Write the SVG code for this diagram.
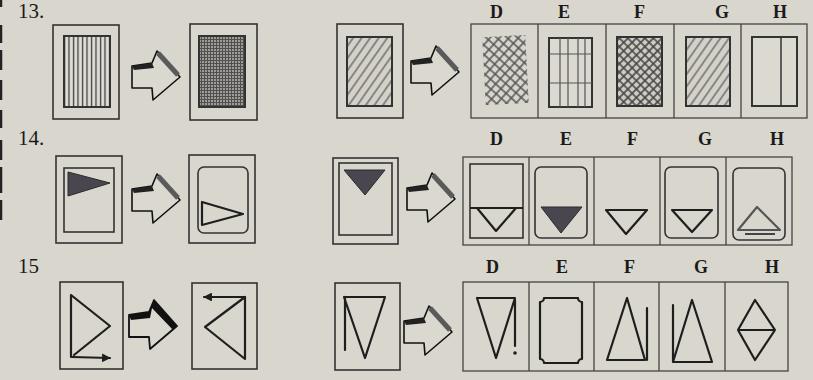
<svg xmlns="http://www.w3.org/2000/svg" width="813" height="380" viewBox="0 0 813 380">
<style>
.bg{fill:#d9d6cd}
.num{font-family:"Liberation Serif",serif;font-size:21px;fill:#1a1a1a}
.lab{font-family:"Liberation Serif",serif;font-size:18px;font-weight:bold;fill:#1a1a1a}
.box{fill:none;stroke:#333;stroke-width:1.6}
.frame{fill:none;stroke:#444;stroke-width:1.3}
.inner{stroke:#333;stroke-width:2}
.fig{fill:none;stroke:#1e1e1e;stroke-width:2.2;stroke-linejoin:round;stroke-linecap:round}
.figg{fill:none;stroke:#555;stroke-width:2.2;stroke-linejoin:round;stroke-linecap:round}
.solid{fill:#4a4650;stroke:#2a2a2a;stroke-width:1}
</style>
<defs>
<pattern id="vl" width="4.5" height="10" patternUnits="userSpaceOnUse">
<rect width="4.5" height="10" fill="#e2dfd8"/>
<line x1="1.5" y1="0" x2="1.5" y2="10" stroke="#444" stroke-width="1.4"/>
</pattern>
<pattern id="grid" width="3" height="3" patternUnits="userSpaceOnUse">
<rect width="3" height="3" fill="#9f9c98"/>
<path d="M0 0.5H3M0.5 0V3" stroke="#505050" stroke-width="1"/>
</pattern>
<pattern id="diag" width="7" height="10" patternUnits="userSpaceOnUse" patternTransform="rotate(35)">
<rect width="7" height="10" fill="#d4d1c9"/>
<line x1="3" y1="0" x2="3" y2="10" stroke="#555" stroke-width="1.2"/>
</pattern>
<pattern id="cross" width="7" height="7" patternUnits="userSpaceOnUse" patternTransform="rotate(45)">
<rect width="7" height="7" fill="#d8d5cd"/>
<path d="M3 0V7M0 3H7" stroke="#555" stroke-width="1.5"/>
</pattern>
<pattern id="cross2" width="6" height="6" patternUnits="userSpaceOnUse" patternTransform="rotate(45)">
<rect width="6" height="6" fill="#cfccc4"/>
<path d="M3 0V6M0 3H6" stroke="#444" stroke-width="1.6"/>
</pattern>
<marker id="ah" viewBox="0 0 10 10" refX="9" refY="5" markerWidth="4" markerHeight="4" orient="auto">
<path d="M0 0L10 5L0 10z" fill="#1e1e1e"/>
</marker>
<g id="arr">
<polygon points="0,15 20,12 25,0 48,26 21,49 20,37 0,37" fill="#dbd8cf" stroke="#111" stroke-width="1.6" stroke-linejoin="round"/>
<line x1="26" y1="2" x2="46" y2="24" stroke="#5a5a5a" stroke-width="5"/>
<polygon points="0,15 20,12 22,17 2,19" fill="#222"/>
</g>
<g id="arrB">
<polygon points="0,15 20,12 25,0 48,26 21,49 20,37 0,37" fill="#dbd8cf" stroke="#111" stroke-width="1.8" stroke-linejoin="round"/>
<polygon points="0,15 20,12 25,0 48,26 44,30 23,8 21,18 2,20" fill="#111"/>
</g>
</defs>
<rect class="bg" width="813" height="380"/>
<g id="margin" stroke="#222" stroke-width="2.5">
<line x1="1" y1="0" x2="1" y2="7"/><line x1="1" y1="25" x2="1" y2="43"/><line x1="1" y1="50" x2="1" y2="70"/><line x1="1" y1="80" x2="1" y2="100"/><line x1="1" y1="110" x2="1" y2="128"/><line x1="1" y1="140" x2="1" y2="160"/><line x1="1" y1="167" x2="1" y2="193"/><line x1="1" y1="200" x2="1" y2="220"/>
</g>
<g id="labels">
<text class="num" x="18" y="18">13.</text>
<text class="num" x="18" y="145">14.</text>
<text class="num" x="18" y="273">15</text>
<text class="lab" x="490" y="18">D</text><text class="lab" x="558" y="18">E</text><text class="lab" x="634" y="18">F</text><text class="lab" x="715" y="18">G</text><text class="lab" x="773" y="18">H</text>
<text class="lab" x="490" y="145">D</text><text class="lab" x="560" y="145">E</text><text class="lab" x="627" y="145">F</text><text class="lab" x="698" y="145">G</text><text class="lab" x="770" y="145">H</text>
<text class="lab" x="486" y="273">D</text><text class="lab" x="556" y="273">E</text><text class="lab" x="624" y="273">F</text><text class="lab" x="694" y="273">G</text><text class="lab" x="765" y="273">H</text>
</g>
<!-- Row 13 -->
<g id="q13a"><rect class="box" x="53" y="25" width="66" height="94"/><rect class="inner" x="64" y="36" width="46" height="71" fill="url(#vl)"/></g>
<g id="a13a"><use href="#arr" x="132" y="51"/></g>
<g id="q13b"><rect class="box" x="190" y="24" width="67" height="96"/><rect class="inner" x="199" y="36" width="46" height="71" fill="url(#grid)" stroke="#555"/></g>
<g id="q13c"><rect class="box" x="337" y="24" width="66" height="94"/><rect class="inner" x="347" y="37" width="45" height="69" fill="url(#diag)" stroke="#555" stroke-width="2.5"/></g>
<g id="a13c"><use href="#arr" x="411" y="46"/></g>
<g id="o13">
<rect class="frame" x="471" y="24" width="336" height="94"/>
<path class="frame" d="M538 24V118M606 24V118M674 24V118M741 24V118"/>
<rect x="484" y="36" width="43" height="68" fill="url(#cross)" transform="rotate(-3 505 70)"/>
<g><rect class="inner" x="549" y="38" width="43" height="69" fill="#dcd9d1"/><path d="M560 38V107M568 38V107M578 38V107M585 38V107M549 54H592M549 83H592" stroke="#555" stroke-width="1.2"/></g>
<rect class="inner" x="617" y="37" width="45" height="69" fill="url(#cross2)" stroke="#444"/>
<rect class="inner" x="686" y="37" width="44" height="69" fill="url(#diag)" stroke="#555"/>
<g><rect class="inner" x="752" y="37" width="45" height="69" fill="#dcd9d1" stroke="#222" stroke-width="2.2"/><line x1="781" y1="37" x2="781" y2="106" stroke="#333" stroke-width="1.5"/></g>
</g>
<!-- Row 14 -->
<g id="q14a"><rect class="box" x="56" y="156" width="66" height="87"/><rect class="box" x="64" y="168" width="50" height="64" stroke-width="2"/><polygon class="solid" points="68,172 68,196 110,183"/></g>
<g id="a14a"><use href="#arr" x="132" y="174"/></g>
<g id="q14b"><rect class="box" x="189" y="155" width="66" height="88"/><rect class="box" x="198" y="167" width="50" height="66" rx="6" stroke-width="2"/><polygon class="fig" points="202,202 202,225 243,214"/></g>
<g id="q14c"><rect class="box" x="333" y="158" width="65" height="86"/><rect class="box" x="339" y="163" width="53" height="72" stroke-width="2"/><polygon class="solid" points="344,170 385,170 365,195"/></g>
<g id="a14c"><use href="#arr" x="407" y="173"/></g>
<g id="o14">
<rect class="frame" x="463" y="157" width="329" height="88"/>
<path class="frame" d="M529 157V245M594 157V245M660 157V245M726 157V245"/>
<g><rect class="box" x="470" y="164" width="53" height="74" stroke-width="2"/><line x1="470" y1="208" x2="523" y2="208" stroke="#222" stroke-width="2"/><polygon class="fig" points="477,208 516,208 496,231"/></g>
<g><rect class="box" x="535" y="167" width="52" height="71" rx="6" stroke-width="2.2"/><polygon class="solid" points="541,207 582,207 561,233"/></g>
<polygon class="fig" points="606,210 647,210 626,234"/>
<g><rect class="box" x="665" y="167" width="53" height="71" rx="6" stroke-width="2.2"/><polygon class="fig" points="672,210 712,210 692,232"/></g>
<g><rect class="box" x="733" y="168" width="52" height="72" rx="6" stroke-width="2.2"/><polygon class="figg" points="738,230 780,230 757,207"/><line x1="745" y1="234" x2="775" y2="234" stroke="#444" stroke-width="2"/></g>
</g>
<!-- Row 15 -->
<g id="q15a"><rect class="box" x="60" y="282" width="63" height="87"/><path class="fig" d="M71 295V357M71 295L110 326L74 355"/><line class="fig" x1="72" y1="357" x2="110" y2="358" marker-end="url(#ah)"/></g>
<g id="a15a"><use href="#arrB" x="129" y="300"/></g>
<g id="q15b"><rect class="box" x="192" y="283" width="65" height="86"/><path class="fig" d="M245 297V359L205 327L245 297"/><line class="fig" x1="245" y1="297" x2="204" y2="297" marker-end="url(#ah)"/></g>
<g id="q15c"><rect class="box" x="335" y="283" width="65" height="87"/><path class="fig" d="M344 297H385L365 358L344 297M345 297V350"/></g>
<g id="a15c"><use href="#arr" x="404" y="306"/></g>
<g id="o15">
<rect class="frame" x="463" y="282" width="325" height="89"/>
<path class="frame" d="M529 282V371M594 282V371M659 282V371M725 282V371"/>
<g><path class="fig" d="M477 298H515L496 358L477 298M515 300V346"/><circle cx="515" cy="353" r="1.8" fill="#1e1e1e"/></g>
<path class="fig" d="M544 298H578A4 4 0 0 0 582 302V359A4 4 0 0 0 578 363H544A4 4 0 0 0 540 359V302A4 4 0 0 0 544 298Z"/>
<path class="fig" d="M607 360H645L627 298Z M647 308V360"/>
<path class="fig" d="M692 300L712 362H673L692 300Z M673 305V362"/>
<path class="fig" d="M755 300L775 330L755 360L738 330Z M738 330H775"/>
</g>
</svg>
